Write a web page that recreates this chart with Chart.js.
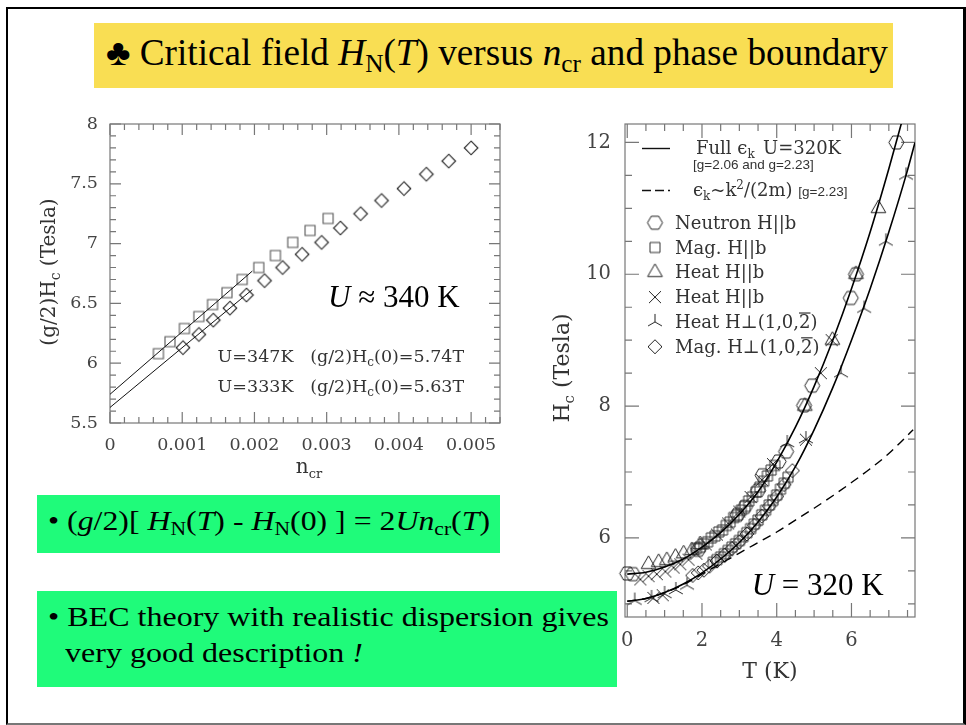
<!DOCTYPE html>
<html>
<head>
<meta charset="utf-8">
<script src="https://cdn.jsdelivr.net/npm/chart.js@4.4.1/dist/chart.umd.min.js"></script>
<style>
    body { margin: 0; width: 966px; height: 725px; position: relative; overflow: hidden; background: #fff; font-family: "Liberation Serif", serif; color: #000; }
    #frame { position: absolute; left: 6px; top: 7px; width: 955px; height: 714px; border-left: 2px solid #000; border-top: 2px solid #000; border-right: 3px solid #000; border-bottom: 2px solid #777; }
    #title { position: absolute; left: 94px; top: 23px; width: 799px; height: 65px; background: #f9de53; }
    #tt { position: absolute; left: 12px; top: 0; font-size: 37px; line-height: 59px; white-space: nowrap; transform-origin: 0 0; }
    sub { font-size: 0.68em; vertical-align: baseline; position: relative; top: 0.28em; }
    .box { position: absolute; left: 37px; background: #1ffb7a; font-size: 28px; white-space: nowrap; }
    .box span { position: absolute; left: 11px; transform-origin: 0 0; }
    #b1 { top: 495px; width: 463px; height: 58px; line-height: 52px; }
    #b2 { top: 591px; width: 580px; height: 96px; line-height: 36px; }
    canvas { position: absolute; }
</style>
</head>
<body>
<div id="frame"></div>
<div id="title"><span id="tt">&#9827; Critical field <i>H</i><sub>N</sub>(<i>T</i>) versus <i>n</i><sub>cr</sub> and phase boundary</span></div>
<canvas id="LeftChart" width="500" height="380" style="left:20px;top:110px"></canvas>
<canvas id="RightChart" width="410" height="580" style="left:530px;top:110px"></canvas>
<div class="box" id="b1"><span id="b1t">&bull; (<i>g</i>/2)[ <i>H</i><sub>N</sub>(<i>T</i>) - <i>H</i><sub>N</sub>(0) ] = 2<i>Un</i><sub>cr</sub>(<i>T</i>)</span></div>
<div class="box" id="b2">
    <span id="b2a" style="top:8px">&bull; BEC theory with realistic dispersion gives</span>
    <span id="b2b" style="top:44px;left:28px">very good description <i>!</i></span>
</div>
<script>
// ---- left panel: (g/2)Hc versus n_cr ----
const magB_n = [0.00067, 0.00083, 0.00103, 0.00123, 0.00142, 0.00162, 0.00183, 0.00206, 0.00229, 0.00253, 0.00277, 0.00302];
const magB_h = [6.08, 6.18, 6.29, 6.39, 6.49, 6.59, 6.70, 6.80, 6.90, 7.01, 7.11, 7.21];
const magP_n = [0.00101, 0.00123, 0.00143, 0.00166, 0.00189, 0.00214, 0.00239, 0.00266, 0.00293, 0.00319, 0.00347, 0.00376, 0.00407, 0.00438, 0.00469, 0.00500];
const magP_h = [6.13, 6.24, 6.36, 6.46, 6.57, 6.69, 6.80, 6.91, 7.01, 7.13, 7.25, 7.36, 7.46, 7.58, 7.69, 7.80];
const fit_n = [0, 0.00197];
const fit347 = [5.74, 6.77];
const fit333 = [5.63, 6.615];
const leftXTicks = [0, 0.001, 0.002, 0.003, 0.004, 0.005];
const leftXLabels = ['0', '0.001', '0.002', '0.003', '0.004', '0.005'];
const leftYTicks = [5.5, 6, 6.5, 7, 7.5, 8];
const leftYLabels = ['5.5', '6', '6.5', '7', '7.5', '8'];

// ---- right panel: Hc versus T ----
const fullHi_t = [0, 0.5, 1, 1.5, 2, 2.5, 3, 3.5, 4, 4.5, 5, 5.5, 6, 6.5, 7, 7.35];
const fullHi_h = [5.45, 5.48, 5.56, 5.68, 5.86, 6.08, 6.36, 6.70, 7.15, 7.68, 8.30, 9.00, 9.78, 10.64, 11.60, 12.32];
const fullLo_t = [0, 0.5, 1, 1.5, 2, 2.5, 3, 3.5, 4, 4.5, 5, 5.5, 6, 6.5, 7, 7.5, 7.7];
const fullLo_h = [5.04, 5.08, 5.17, 5.30, 5.47, 5.68, 5.93, 6.24, 6.62, 7.08, 7.64, 8.28, 9.00, 9.78, 10.64, 11.58, 12.00];
const quad_t = [0, 0.5, 1, 1.5, 2, 2.5, 3, 3.5, 4, 4.5, 5, 5.5, 6, 6.5, 7, 7.65];
const quad_h = [5.04, 5.08, 5.17, 5.29, 5.45, 5.61, 5.77, 5.93, 6.09, 6.27, 6.45, 6.64, 6.84, 7.05, 7.28, 7.64];

const neutron_t = [0.0, 0.15, 1.9, 2.95, 3.15, 3.5, 3.62, 4.05, 4.25, 4.73, 4.95, 5.98, 6.12, 7.2];
const neutron_h = [5.46, 5.45, 5.82, 6.35, 6.47, 6.72, 6.95, 7.16, 7.31, 8.01, 8.31, 9.64, 10.0, 12.0];
const magHb_t = [1.85, 1.95, 2.05, 2.15, 2.25, 2.35, 2.45, 2.55, 2.65, 2.75, 2.85, 2.95, 3.05, 3.15, 3.25, 3.35, 3.45, 3.55, 3.65, 3.75, 3.85, 3.95,
    2.3, 2.4, 2.5, 2.6, 2.7, 2.8, 2.9, 3.0, 3.1, 3.2, 3.3, 3.4, 3.5, 3.6, 3.7, 3.8, 3.9, 4.0, 4.1, 4.2, 4.3];
const magHb_h = [5.84, 5.86, 5.91, 5.94, 6.00, 6.03, 6.09, 6.12, 6.19, 6.24, 6.31, 6.35, 6.42, 6.48, 6.56, 6.62, 6.70, 6.77, 6.86, 6.94, 7.03, 7.10,
    5.63, 5.67, 5.71, 5.76, 5.81, 5.86, 5.91, 5.96, 6.02, 6.08, 6.14, 6.21, 6.27, 6.35, 6.42, 6.50, 6.57, 6.65, 6.74, 6.83, 6.92];
const heatTri_t = [0.57, 0.84, 1.06, 1.29, 1.51, 1.73, 1.95, 4.75, 5.49, 6.12, 6.72];
const heatTri_h = [5.60, 5.63, 5.66, 5.71, 5.76, 5.81, 5.90, 8.00, 9.00, 10.00, 11.00];
const heatX_t = [0.35, 0.57, 0.79, 1.02, 1.24, 1.42, 1.64, 1.85, 2.1, 2.4, 2.7, 3.0, 3.3, 3.6, 3.9, 5.18, 5.47, 0.7, 0.95, 4.78];
const heatX_h = [5.37, 5.42, 5.45, 5.49, 5.55, 5.60, 5.67, 5.76, 5.90, 6.05, 6.22, 6.40, 6.62, 6.88, 7.12, 8.50, 9.00, 5.09, 5.13, 7.49];
const heatPerp_t = [0.2, 0.65, 1.0, 1.3, 1.6, 4.28, 4.78, 5.72, 6.34, 6.92, 7.46];
const heatPerp_h = [5.05, 5.09, 5.15, 5.21, 5.28, 7.44, 7.50, 8.50, 9.48, 10.50, 11.50];
const magPerp_t = [1.75, 1.9, 2.05, 2.2, 2.4, 2.6, 2.8, 3.0, 3.2, 3.4, 3.6, 3.8, 4.0, 4.2, 4.42];
const magPerp_h = [5.43, 5.47, 5.51, 5.57, 5.65, 5.74, 5.84, 5.94, 6.06, 6.19, 6.33, 6.48, 6.63, 6.81, 7.02];
const rightXTicks = [0, 2, 4, 6];
const rightXLabels = ['0', '2', '4', '6'];
const rightYTicks = [6, 8, 10, 12];
const rightYLabels = ['6', '8', '10', '12'];
const legendLabels = ['Neutron H||b', 'Mag. H||b', 'Heat H||b', 'Heat H||b', 'Heat H\u22A5(1,0,2\u0305)', 'Mag. H\u22A5(1,0,2\u0305)'];

// the slide text is squeezed / stretched horizontally, fit each line to its width
function fitWidth(id, w, scale) {
    const el = document.getElementById(id);
    const k = scale || w / el.getBoundingClientRect().width;
    el.style.transform = 'scaleX(' + k + ')';
    return k;
}
fitWidth('tt', 782);
fitWidth('b1t', 442);
fitWidth('b2b', 0, fitWidth('b2a', 561));

const SERIF = '"DejaVu Serif"';
const TIMES = '"Liberation Serif"';

const pts = (xs, ys) => xs.map((v, i) => ({ x: v, y: ys[i] }));

// marker glyphs as small canvases (hexagon and tri-star are not built in)
function marker(kind, r, color, lw) {
    const c = document.createElement('canvas');
    const s = Math.ceil(2 * r + 4);
    c.width = c.height = s;
    const g = c.getContext('2d');
    const m = s / 2;
    g.strokeStyle = color;
    g.lineWidth = lw || 1;
    g.beginPath();
    if (kind === 'hex') {
        for (let k = 0; k < 6; k++) {
            const a = k * Math.PI / 3;
            g[k ? 'lineTo' : 'moveTo'](m + r * Math.cos(a), m + r * Math.sin(a));
        }
        g.closePath();
    } else if (kind === 'square') {
        g.rect(m - r, m - r, 2 * r, 2 * r);
    } else if (kind === 'diamond') {
        g.moveTo(m, m - r); g.lineTo(m + r, m); g.lineTo(m, m + r); g.lineTo(m - r, m); g.closePath();
    } else if (kind === 'tri') {
        g.moveTo(m, m - r); g.lineTo(m + r * 0.866, m + r * 0.5); g.lineTo(m - r * 0.866, m + r * 0.5); g.closePath();
    } else if (kind === 'x') {
        g.moveTo(m - r, m - r); g.lineTo(m + r, m + r); g.moveTo(m + r, m - r); g.lineTo(m - r, m + r);
    } else if (kind === 'tristar') {
        g.moveTo(m, m - r); g.lineTo(m, m); g.lineTo(m - r * 0.87, m + r * 0.5); g.moveTo(m, m); g.lineTo(m + r * 0.87, m + r * 0.5);
    }
    g.stroke();
    return c;
}

// text made of pieces: [text, font, dy]; a combining overline puts a bar over the previous char
function rich(ctx, parts, x, y, align) {
    let w = 0;
    parts.forEach(p => { ctx.font = p[1]; w += ctx.measureText(p[0].replace(/\u0305/g, '')).width; });
    let cx = align === 'center' ? x - w / 2 : x;
    parts.forEach(p => {
        ctx.font = p[1];
        const segs = p[0].split('\u0305');
        segs.forEach((s, i) => {
            ctx.fillText(s, cx, y + (p[2] || 0));
            const sw = ctx.measureText(s).width;
            if (i < segs.length - 1) {
                const cw = ctx.measureText(s.slice(-1)).width;
                const size = parseFloat(p[1].match(/(\d+(\.\d+)?)px/)[1]);
                ctx.fillRect(cx + sw - cw, y - size * 0.86, cw, 1.2);
            }
            cx += sw;
        });
    });
    return w;
}

// box frame with inward ticks on all four sides
const frameTicks = {
    id: 'frameTicks',
    beforeDatasetsDraw(chart, args, o) {
        const { ctx, chartArea: a, scales: { x, y } } = chart;
        ctx.save();
        ctx.strokeStyle = o.color;
        ctx.lineWidth = 1.2;
        ctx.strokeRect(a.left, a.top, a.width, a.height);
        ctx.beginPath();
        const tx = (v, len) => {
            const p = x.getPixelForValue(v);
            ctx.moveTo(p, a.bottom); ctx.lineTo(p, a.bottom - len);
            ctx.moveTo(p, a.top); ctx.lineTo(p, a.top + len);
        };
        const ty = (v, len) => {
            const p = y.getPixelForValue(v);
            ctx.moveTo(a.left, p); ctx.lineTo(a.left + len, p);
            ctx.moveTo(a.right, p); ctx.lineTo(a.right - len, p);
        };
        for (let i = 0; ; i++) {
            const v = o.xMinor[0] + i * o.xMinor[1];
            if (v > x.max + 1e-9) break;
            tx(v, o.minor);
        }
        for (let i = 0; ; i++) {
            const v = o.yMinor[0] + i * o.yMinor[1];
            if (v > y.max + 1e-9) break;
            ty(v, o.minor);
        }
        o.xMajor.forEach(v => tx(v, o.major));
        o.yMajor.forEach(v => ty(v, o.major));
        ctx.stroke();
        ctx.restore();
    }
};

function axis(min, max, ticks, labels, size, pad, fit) {
    return {
        type: 'linear',
        min: min,
        max: max,
        grid: { display: false, drawTicks: false },
        border: { display: false },
        afterBuildTicks: s => { s.ticks = ticks.map(v => ({ value: v })); },
        afterFit: s => {
            // keep the plot box where the slide has it: no extra room for label overhang
            s.paddingTop = s.paddingBottom = s.paddingLeft = s.paddingRight = 0;
            fit(s);
        },
        ticks: {
            autoSkip: false,
            maxRotation: 0,
            padding: pad,
            color: '#444',
            font: { family: 'DejaVu Serif', size: size },
            callback: (v, i) => labels[i]
        }
    };
}

const leftText = {
    id: 'leftText',
    afterDraw(chart) {
        const { ctx, chartArea: a, scales: { x, y } } = chart;
        ctx.save();
        ctx.fillStyle = '#333';
        ctx.save();
        ctx.translate(a.left - 55, 162);
        ctx.rotate(-Math.PI / 2);
        rich(ctx, [['(g/2)H', '20px ' + SERIF], ['c', '14px ' + SERIF, 5], [' (Tesla)', '20px ' + SERIF]], 0, 0, 'center');
        ctx.restore();
        rich(ctx, [['n', '20px ' + SERIF], ['cr', '13px ' + SERIF, 5]], (a.left + a.right) / 2 + 4, a.bottom + 50, 'center');
        const f = '17.5px ' + SERIF, fs = '12px ' + SERIF;
        rich(ctx, [['U=347K   (g/2)H', f], ['c', fs, 4], ['(0)=5.74T', f]], x.getPixelForValue(0.00149), y.getPixelForValue(6.006));
        rich(ctx, [['U=333K   (g/2)H', f], ['c', fs, 4], ['(0)=5.63T', f]], x.getPixelForValue(0.00149), y.getPixelForValue(5.758));
        ctx.fillStyle = '#000';
        rich(ctx, [['U', 'italic 31px ' + TIMES], [' \u2248 340 K', '31px ' + TIMES]], x.getPixelForValue(0.00302), y.getPixelForValue(6.47));
        ctx.restore();
    }
};

const glyphs = [
    marker('hex', 7.5, '#222'),
    marker('square', 5, '#333'),
    marker('tri', 8.5, '#222'),
    marker('x', 6, '#222'),
    marker('tristar', 8, '#222'),
    marker('diamond', 7, '#222')
];

const rightText = {
    id: 'rightText',
    afterDraw(chart) {
        const { ctx, chartArea: a, scales: { x, y } } = chart;
        const f = '18px ' + SERIF, fs = '12px ' + SERIF, sans = '13.5px "Liberation Sans"';
        ctx.save();
        ctx.fillStyle = '#333';
        ctx.save();
        ctx.translate(a.left - 56, 258);
        ctx.rotate(-Math.PI / 2);
        rich(ctx, [['H', '22px ' + SERIF], ['c', '15px ' + SERIF, 5], [' (Tesla)', '22px ' + SERIF]], 0, 0, 'center');
        ctx.restore();
        rich(ctx, [['T (K)', '22px ' + SERIF]], (a.left + a.right) / 2, a.bottom + 61, 'center');

        // legend
        ctx.strokeStyle = '#111';
        ctx.lineWidth = 1.4;
        ctx.beginPath(); ctx.moveTo(a.left + 17, a.top + 24.5); ctx.lineTo(a.left + 45, a.top + 24.5); ctx.stroke();
        ctx.setLineDash([9, 4]);
        ctx.beginPath(); ctx.moveTo(a.left + 17, a.top + 66.5); ctx.lineTo(a.left + 45, a.top + 66.5); ctx.stroke();
        ctx.setLineDash([]);
        rich(ctx, [['Full \u03F5', f], ['k', fs, 4]], a.left + 71, a.top + 30);
        rich(ctx, [['U=320K', f]], a.left + 138, a.top + 30);
        rich(ctx, [['[g=2.06 and g=2.23]', sans]], a.left + 68, a.top + 45);
        rich(ctx, [['\u03F5', f], ['k', fs, 4], ['~k', f], ['2', fs, -7], ['/(2m) ', f], ['[g=2.23]', sans]], a.left + 68, a.top + 72);
        glyphs.forEach((g, i) => {
            const cy = a.top + 98.7 + i * 24.8;
            ctx.drawImage(g, a.left + 30 - g.width / 2, cy - g.height / 2);
            rich(ctx, [[legendLabels[i], f]], a.left + 50, cy + 6);
        });

        ctx.fillStyle = '#000';
        rich(ctx, [['U', 'italic 31px ' + TIMES], [' = 320 K', '31px ' + TIMES]], x.getPixelForValue(3.33), y.getPixelForValue(5.14));
        ctx.restore();
    }
};

const ctxLeft = document.getElementById('LeftChart').getContext('2d');
new Chart(ctxLeft, {
    type: 'scatter',
    data: {
        datasets: [
            { data: pts(fit_n, fit347), showLine: true, borderColor: '#111', borderWidth: 1, pointRadius: 0 },
            { data: pts(fit_n, fit333), showLine: true, borderColor: '#111', borderWidth: 1, pointRadius: 0 },
            { data: pts(magB_n, magB_h), pointStyle: marker('square', 5, '#555', 1.1), pointRadius: 5, clip: false },
            { data: pts(magP_n, magP_h), pointStyle: marker('diamond', 6.8, '#222', 1.1), pointRadius: 5, clip: false }
        ]
    },
    options: {
        responsive: false,
        animation: false,
        events: [],
        layout: { padding: { top: 14, right: 20, left: 0, bottom: 0 } },
        plugins: {
            legend: { display: false },
            tooltip: { enabled: false },
            frameTicks: { color: '#777', major: 11, minor: 6, xMinor: [0, 0.0002], yMinor: [5.5, 0.1], xMajor: leftXTicks, yMajor: leftYTicks }
        },
        scales: {
            x: axis(0, 0.0054, leftXTicks, leftXLabels, 17.5, 12, s => { s.height = 67; }),
            y: axis(5.5, 8, leftYTicks, leftYLabels, 17.5, 12, s => { s.width = 90; })
        }
    },
    plugins: [frameTicks, leftText]
});

const ctxRight = document.getElementById('RightChart').getContext('2d');
new Chart(ctxRight, {
    type: 'scatter',
    data: {
        datasets: [
            { data: pts(fullHi_t, fullHi_h), showLine: true, borderColor: '#000', borderWidth: 1.6, pointRadius: 0, cubicInterpolationMode: 'monotone' },
            { data: pts(fullLo_t, fullLo_h), showLine: true, borderColor: '#000', borderWidth: 1.6, pointRadius: 0, cubicInterpolationMode: 'monotone' },
            { data: pts(quad_t, quad_h), showLine: true, borderColor: '#000', borderWidth: 1.4, borderDash: [9, 6], pointRadius: 0, cubicInterpolationMode: 'monotone' },
            { label: legendLabels[0], data: pts(neutron_t, neutron_h), pointStyle: glyphs[0], pointRadius: 5, clip: false },
            { label: legendLabels[1], data: pts(magHb_t, magHb_h), pointStyle: glyphs[1], pointRadius: 5, clip: false },
            { label: legendLabels[2], data: pts(heatTri_t, heatTri_h), pointStyle: glyphs[2], pointRadius: 5, clip: false },
            { label: legendLabels[3], data: pts(heatX_t, heatX_h), pointStyle: glyphs[3], pointRadius: 5, clip: false },
            { label: legendLabels[4], data: pts(heatPerp_t, heatPerp_h), pointStyle: glyphs[4], pointRadius: 5, clip: false },
            { label: legendLabels[5], data: pts(magPerp_t, magPerp_h), pointStyle: glyphs[5], pointRadius: 5, clip: false }
        ]
    },
    options: {
        responsive: false,
        animation: false,
        events: [],
        layout: { padding: { top: 14, right: 25, left: 0, bottom: 0 } },
        plugins: {
            legend: { display: false },
            tooltip: { enabled: false },
            frameTicks: { color: '#777', major: 14, minor: 7, xMinor: [0, 0.5], yMinor: [5, 0.5], xMajor: rightXTicks, yMajor: rightYTicks }
        },
        scales: {
            x: axis(-0.06, 7.7, rightXTicks, rightXLabels, 19.5, 12, s => { s.height = 73; }),
            y: axis(4.8, 12.28, rightYTicks, rightYLabels, 19.5, 14, s => { s.width = 95; })
        }
    },
    plugins: [frameTicks, rightText]
});
</script>
</body>
</html>
